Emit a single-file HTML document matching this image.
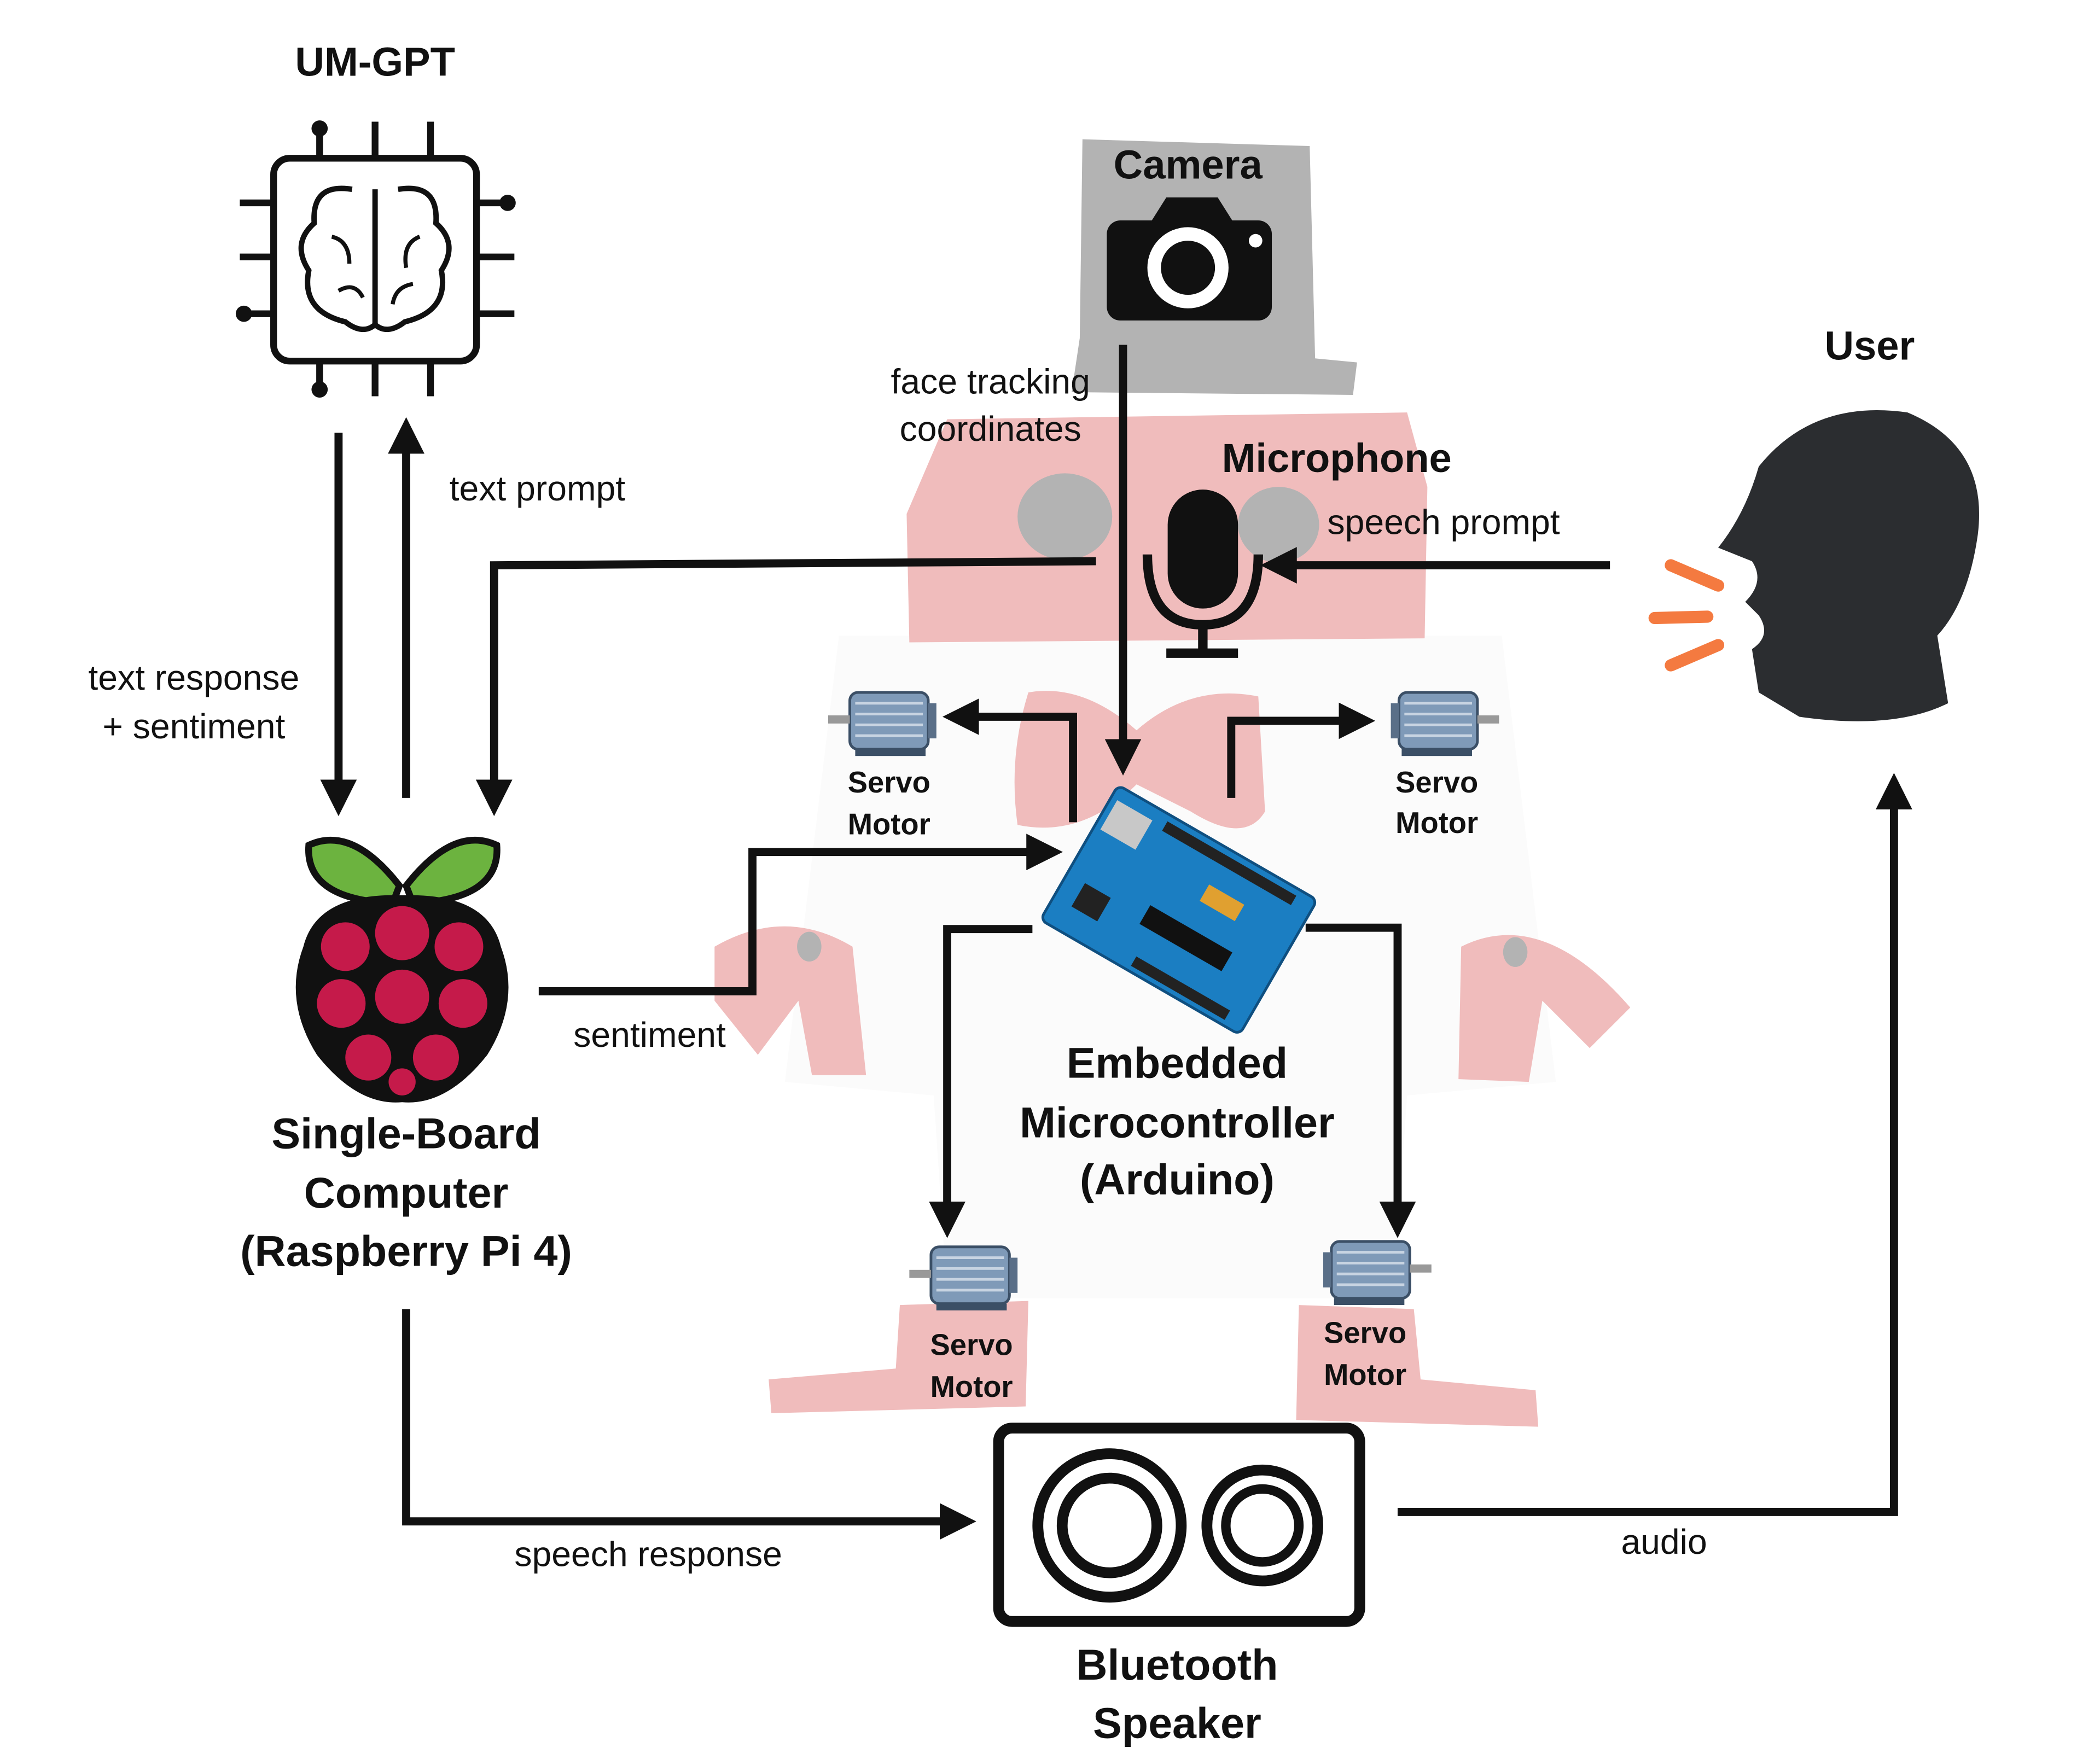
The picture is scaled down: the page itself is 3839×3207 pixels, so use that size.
<!DOCTYPE html>
<html><head><meta charset="utf-8"><style>
html,body{margin:0;padding:0;background:#fff}
svg{display:block}
text{font-family:"Liberation Sans",sans-serif;fill:#111}
.b{font-weight:bold}
</style></head><body>
<svg width="3839" height="3207" viewBox="0 0 1552 1297" xmlns="http://www.w3.org/2000/svg">
<defs>
<marker id="a" viewBox="0 0 10 10" refX="5" refY="5" markerWidth="4.5" markerHeight="4.5" orient="auto-start-reverse" markerUnits="strokeWidth">
<path d="M0,0 L10,5 L0,10 z" fill="#111"/></marker>
</defs>
<rect width="1552" height="1297" fill="#fff"/>
<!-- faint body -->
<path d="M620,470 L1110,470 L1150,800 L1040,810 L1030,960 L700,960 L690,810 L580,800 Z" fill="#fbfbfb"/>
<!-- camera gray blob -->
<path d="M800,103 L968,108 L972,265 L1003,268 L1000,292 L792,290 L798,250 Z" fill="#b3b3b3"/>
<!-- head -->
<path d="M700,310 L1040,305 L1055,360 L1053,472 L672,475 L670,380 Z" fill="#f0bcbc"/>
<ellipse cx="787" cy="382" rx="35" ry="32" fill="#b3b3b3"/>
<ellipse cx="945" cy="388" rx="30" ry="28" fill="#b3b3b3"/>
<!-- bowtie -->
<path d="M760,512 Q800,505 840,540 Q880,505 930,515 L935,600 Q920,625 880,600 L840,580 Q800,620 752,610 Q745,560 760,512 Z" fill="#f0bcbc"/>
<!-- arms -->
<path d="M528,700 Q580,670 630,700 L640,795 L600,795 L590,740 L560,780 L528,740 Z" fill="#f0bcbc"/>
<path d="M1080,700 Q1140,670 1205,745 L1175,775 L1140,740 L1130,800 L1078,798 Z" fill="#f0bcbc"/>
<ellipse cx="598" cy="700" rx="9" ry="11" fill="#b3b3b3"/>
<ellipse cx="1120" cy="704" rx="9" ry="11" fill="#b3b3b3"/>
<!-- feet -->
<path d="M665,965 L760,962 L758,1040 L570,1045 L568,1020 L662,1012 Z" fill="#f0bcbc"/>
<path d="M960,965 L1045,968 L1050,1020 L1135,1028 L1137,1055 L958,1050 Z" fill="#f0bcbc"/>

<!-- UM-GPT -->
<text x="277" y="56" font-size="30" class="b" text-anchor="middle">UM-GPT</text>
<g stroke="#111" stroke-width="5" fill="none">
<rect x="202" y="117" width="150" height="150" rx="12"/>
<path d="M236,92V117M277,90V117M318,90V117M236,267V290M277,267V293M318,267V293M177,150H202M177,190H202M177,232H202M352,150H378M352,190H380M352,232H380"/>
<path d="M277,140V240 M260,140 Q230,135 232,165 Q215,180 228,200 Q222,230 255,238 Q268,248 277,240 M294,140 Q324,135 322,165 Q339,180 326,200 Q332,230 299,238 Q286,248 277,240" stroke-width="4"/>
<path d="M245,175 Q258,178 258,195 M310,175 Q297,180 300,198 M250,215 Q262,208 268,220 M305,210 Q292,212 290,225" stroke-width="3"/>
</g>
<circle cx="236" cy="95" r="6" fill="#111"/><circle cx="236" cy="288" r="6" fill="#111"/>
<circle cx="180" cy="232" r="6" fill="#111"/><circle cx="375" cy="150" r="6" fill="#111"/>

<!-- Camera -->
<text x="878" y="132" font-size="30" class="b" text-anchor="middle">Camera</text>
<rect x="818" y="163" width="122" height="74" rx="10" fill="#111"/>
<path d="M850,165 L862,146 L900,146 L912,165 Z" fill="#111"/>
<circle cx="878" cy="198" r="30" fill="#fff"/><circle cx="878" cy="198" r="20" fill="#111"/>
<circle cx="928" cy="178" r="5" fill="#fff"/>
<text x="732" y="291" font-size="26" text-anchor="middle">face tracking</text>
<text x="732" y="326" font-size="26" text-anchor="middle">coordinates</text>

<!-- Microphone -->
<text x="988" y="349" font-size="30" class="b" text-anchor="middle">Microphone</text>
<rect x="863" y="362" width="52" height="88" rx="26" fill="#111"/>
<path d="M848,410 Q848,462 889,462 Q930,462 930,410" stroke="#111" stroke-width="7" fill="none"/>
<path d="M889,462V482M862,483H915" stroke="#111" stroke-width="7" fill="none"/>
<text x="1067" y="395" font-size="26" text-anchor="middle">speech prompt</text>

<!-- User -->
<text x="1382" y="266" font-size="30" class="b" text-anchor="middle">User</text>
<path d="M1300,345 Q1340,295 1410,305 Q1470,330 1462,395 Q1455,445 1432,470 L1440,520 Q1400,540 1330,530 L1300,512 L1295,480 Q1310,470 1300,455 L1290,445 Q1305,430 1295,415 L1270,405 Q1290,380 1300,345 Z" fill="#2b2d30"/>
<g stroke="#f47a40" stroke-width="9" stroke-linecap="round">
<path d="M1235,418 L1270,433M1223,457 L1262,456M1235,492 L1270,477"/></g>

<!-- connectors -->
<g stroke="#111" stroke-width="6" fill="none" stroke-linejoin="miter">
<path d="M830,255V560" marker-end="url(#a)"/>
<path d="M810,415L365,418V590" marker-end="url(#a)"/>
<path d="M1190,418H945" marker-end="url(#a)"/>
<path d="M250,320V590" marker-end="url(#a)"/>
<path d="M300,590V322" marker-end="url(#a)"/>
<path d="M398,733H556V630H772" marker-end="url(#a)"/>
<path d="M793,608V530H710" marker-end="url(#a)"/>
<path d="M910,590V533H1003" marker-end="url(#a)"/>
<path d="M763,687H700V902" marker-end="url(#a)"/>
<path d="M965,686H1033V902" marker-end="url(#a)"/>
<path d="M300,968V1125H708" marker-end="url(#a)"/>
<path d="M1033,1118H1400V585" marker-end="url(#a)"/>
</g>
<text x="397" y="370" font-size="26" text-anchor="middle">text prompt</text>
<text x="143" y="510" font-size="26" text-anchor="middle">text response</text>
<text x="143" y="546" font-size="26" text-anchor="middle">+ sentiment</text>
<text x="480" y="774" font-size="26" text-anchor="middle">sentiment</text>
<text x="479" y="1158" font-size="26" text-anchor="middle">speech response</text>
<text x="1230" y="1149" font-size="26" text-anchor="middle">audio</text>

<!-- Raspberry Pi -->
<path d="M295,655 Q260,610 228,625 Q225,665 290,668 Z" fill="#6cb33f" stroke="#111" stroke-width="5"/>
<path d="M300,655 Q335,610 367,625 Q370,665 305,668 Z" fill="#6cb33f" stroke="#111" stroke-width="5"/>
<path d="M297,662 Q360,660 370,700 Q385,740 360,780 Q330,818 297,815 Q264,818 234,780 Q209,740 224,700 Q234,660 297,662 Z" fill="#111"/>
<g fill="#c51a4a">
<circle cx="297" cy="690" r="20"/><circle cx="255" cy="700" r="18"/><circle cx="339" cy="700" r="18"/>
<circle cx="297" cy="737" r="20"/><circle cx="252" cy="742" r="18"/><circle cx="342" cy="742" r="18"/>
<circle cx="272" cy="782" r="17"/><circle cx="322" cy="782" r="17"/><circle cx="297" cy="800" r="10"/></g>
<text x="300" y="849" font-size="32" class="b" text-anchor="middle">Single-Board</text>
<text x="300" y="893" font-size="32" class="b" text-anchor="middle">Computer</text>
<text x="300" y="936" font-size="32" class="b" text-anchor="middle">(Raspberry Pi 4)</text>

<!-- Arduino -->
<g transform="rotate(30 870 675)">
<rect x="785" y="615" width="170" height="115" rx="5" fill="#1b7ec2" stroke="#0f4f80" stroke-width="2"/>
<rect x="850" y="680" width="70" height="16" fill="#111"/>
<rect x="790" y="625" width="30" height="25" fill="#c8c8c8"/>
<rect x="800" y="690" width="22" height="20" fill="#222"/>
<rect x="830" y="620" width="110" height="8" fill="#222"/>
<rect x="860" y="718" width="80" height="8" fill="#222"/>
<rect x="880" y="645" width="30" height="14" fill="#e0a030"/>
</g>
<text x="870" y="797" font-size="32" class="b" text-anchor="middle">Embedded</text>
<text x="870" y="841" font-size="32" class="b" text-anchor="middle">Microcontroller</text>
<text x="870" y="883" font-size="32" class="b" text-anchor="middle">(Arduino)</text>

<!-- Servos -->
<g id="s">
<rect x="628" y="512" width="58" height="42" rx="6" fill="#7f9ab8" stroke="#3b4f66" stroke-width="2"/>
<path d="M632,520H682M632,528H682M632,536H682M632,544H682" stroke="#c8d4e2" stroke-width="2"/>
<rect x="686" y="520" width="6" height="26" fill="#5a6f88"/>
<rect x="612" y="529" width="16" height="6" fill="#999"/>
<rect x="632" y="554" width="52" height="5" fill="#3b4f66"/>
</g>
<use href="#s" transform="translate(1720,0) scale(-1,1)"/>
<use href="#s" transform="translate(60,410)"/>
<use href="#s" transform="translate(1670,406) scale(-1,1)"/>
<g font-size="22" class="b" text-anchor="middle">
<text x="657" y="586">Servo</text><text x="657" y="617">Motor</text>
<text x="1062" y="586">Servo</text><text x="1062" y="616">Motor</text>
<text x="718" y="1002">Servo</text><text x="718" y="1033">Motor</text>
<text x="1009" y="993">Servo</text><text x="1009" y="1024">Motor</text>
</g>

<!-- Speaker -->
<rect x="738" y="1056" width="267" height="143" rx="10" fill="#fff" stroke="#111" stroke-width="8"/>
<circle cx="820" cy="1128" r="53" fill="none" stroke="#111" stroke-width="8"/>
<circle cx="820" cy="1128" r="35" fill="none" stroke="#111" stroke-width="8"/>
<circle cx="933" cy="1128" r="41" fill="none" stroke="#111" stroke-width="8"/>
<circle cx="933" cy="1128" r="27" fill="none" stroke="#111" stroke-width="7"/>
<text x="870" y="1242" font-size="32" class="b" text-anchor="middle">Bluetooth</text>
<text x="870" y="1285" font-size="32" class="b" text-anchor="middle">Speaker</text>
</svg>
</body></html>
